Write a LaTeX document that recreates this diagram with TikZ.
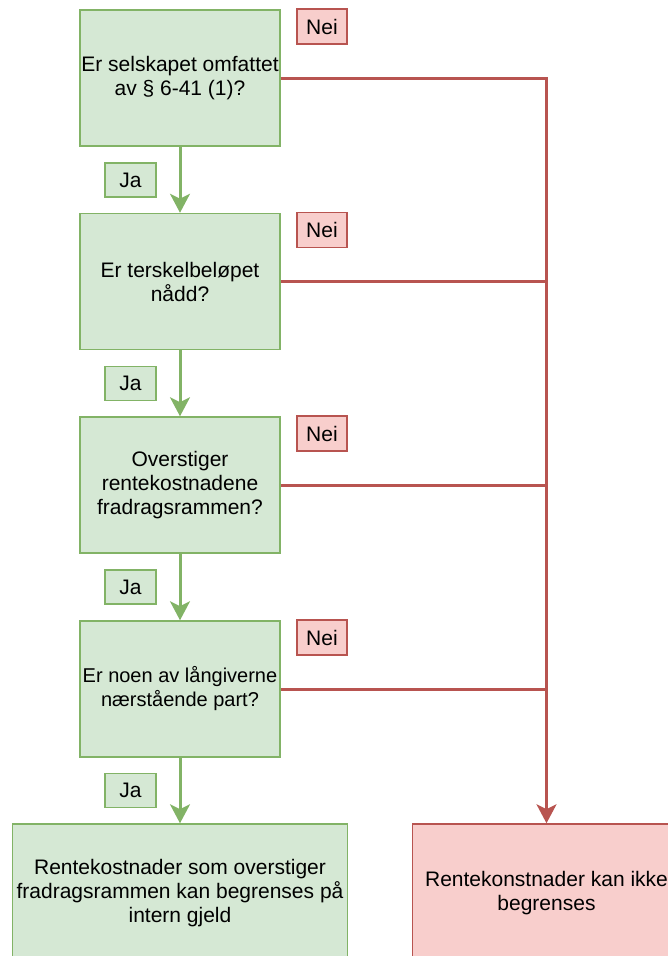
\documentclass[tikz,border=0pt]{standalone}
\usepackage{fontspec}
\setmainfont{Liberation Sans}
\usetikzlibrary{arrows.meta}
\definecolor{jafill}{HTML}{D5E8D4}
\definecolor{jaline}{HTML}{82B366}
\definecolor{neifill}{HTML}{F8CECC}
\definecolor{neiline}{HTML}{B85450}
\tikzset{
  txt/.style={font=\fontsize{21}{24}\selectfont, align=center, inner sep=0pt},
  question/.style={txt, draw=jaline, fill=jafill, line width=1.5pt, minimum width=200pt, minimum height=136pt},
  yesbox/.style={txt, draw=jaline, fill=jafill, line width=1.5pt, minimum width=51pt, minimum height=34pt},
  nobox/.style={txt, draw=neiline, fill=neifill, line width=1.5pt, minimum width=50pt, minimum height=35pt},
  yeslink/.style={draw=jaline, line width=3pt, -{Stealth[length=19pt,width=20pt,inset=5pt]}},
  nolink/.style={draw=neiline, line width=3pt}
}
\begin{document}
\begin{tikzpicture}[x=1pt,y=-1pt]
 \useasboundingbox (0,0) rectangle (668,956);
 \clip (0,0) rectangle (668,956);
 % questions
 \node[question] (q1) at (180,78) {Er selskapet omfattet\\av § 6-41 (1)?};
 \node[question] (q2) at (180,281.5) {Er terskelbeløpet\\nådd?};
 \node[question] (q3) at (180,485) {Overstiger\\rentekostnadene\\fradragsrammen?};
 \node[question, font=\fontsize{20}{24}\selectfont] (q4) at (180,689) {Er noen av långiverne\\nærstående part?};
 % results
 \node[question, minimum width=335pt, minimum height=138pt] (res1) at (180,893) {Rentekostnader som overstiger\\fradragsrammen kan begrenses på\\intern gjeld};
 \node[txt, draw=neiline, fill=neifill, line width=1.5pt, minimum width=268pt, minimum height=138pt] (res2) at (546.5,893) {Rentekonstnader kan ikke\\begrenses};
 % labels
 \node[nobox] (nei1) at (322,26.5) {Nei};
 \node[nobox] (nei2) at (322,230) {Nei};
 \node[nobox] (nei3) at (322,433.5) {Nei};
 \node[nobox] (nei4) at (322,637.5) {Nei};
 \node[yesbox] (ja1) at (130.5,180) {Ja};
 \node[yesbox] (ja2) at (130.5,383.5) {Ja};
 \node[yesbox] (ja3) at (130.5,587) {Ja};
 \node[yesbox] (ja4) at (130.5,790.5) {Ja};
 % ja arrows
 \draw[yeslink] (q1.south) -- (q2.north);
 \draw[yeslink] (q2.south) -- (q3.north);
 \draw[yeslink] (q3.south) -- (q4.north);
 \draw[yeslink] (q4.south) -- (res1.north);
 % nei lines
 \draw[nolink, -{Stealth[length=19pt,width=20pt,inset=5pt]}] (q1.east) -| (res2.north);
 \draw[nolink] (q2.east) -- (q2.east -| res2.north);
 \draw[nolink] (q3.east) -- (q3.east -| res2.north);
 \draw[nolink] (q4.east) -- (q4.east -| res2.north);
\end{tikzpicture}
\end{document}
